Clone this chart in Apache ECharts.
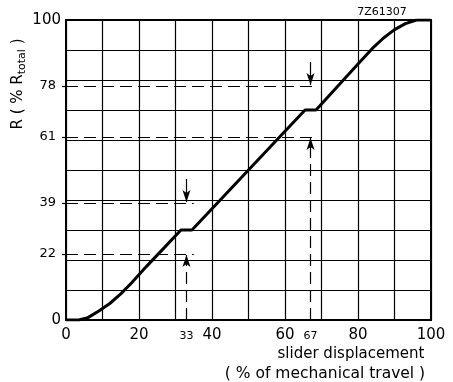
<!DOCTYPE html>
<html>
<head>
<meta charset="utf-8">
<script src="https://cdn.jsdelivr.net/npm/echarts@6/dist/echarts.min.js"></script>
<style>
  html, body { margin: 0; padding: 0; background: #fff; }
  #chart { width: 453px; height: 382px; }
</style>
</head>
<body>
<div id="chart"></div>
<script>
// curve: slider displacement (%) -> R (% of R total)
var travel = [0, 3.5, 6, 9, 12, 15, 18, 22, 27, 31.5, 34.5, 40, 50, 60, 65.5, 68.5, 76, 80, 84, 87, 90, 93, 96, 100];
var resist = [0, 0, 0.8, 3, 5.5, 8.7, 12.4, 17.8, 24.2, 30, 30, 37.1, 50, 62.9, 70, 70, 80, 85.3, 90.6, 94, 96.8, 98.8, 100, 100];

var xMainLabels = [0, 20, 40, 60, 80, 100];
var xTapLabels = [33, 67];
var yMainLabels = [0, 100];
var yTapLabels = [22, 39, 61, 78];

// tap points: x position, lower level, upper level
var tapX = [33, 67];
var tapLow = [22, 61];
var tapHigh = [39, 78];

var FONT = 'DejaVu Sans';

var curve = travel.map(function (x, i) { return [x, resist[i]]; });

var marks = [];
tapX.forEach(function (x, i) {
  var dash = { type: [12, 6], width: 1.2, color: '#000' };
  marks.push([{ coord: [0, tapLow[i]], lineStyle: dash, symbol: 'none' }, { coord: [x + 2, tapLow[i]], symbol: 'none' }]);
  marks.push([{ coord: [0, tapHigh[i]], lineStyle: dash, symbol: 'none' }, { coord: [x + 2, tapHigh[i]], symbol: 'none' }]);
  // dashed rise from the axis with arrow up to lower level
  marks.push([{ coord: [x, 0], lineStyle: dash, symbol: 'none' }, { coord: [x, tapLow[i] - 0.3], symbol: 'arrow', symbolSize: [6, 12] }]);
  // short arrow down onto the upper level
  marks.push([{ coord: [x, tapHigh[i] + 8], lineStyle: { type: 'solid', width: 1.2, color: '#000' }, symbol: 'none' }, { coord: [x, tapHigh[i] + 0.3], symbol: 'arrow', symbolSize: [6, 12] }]);
});

var chart = echarts.init(document.getElementById('chart'));
chart.setOption({
  animation: false,
  backgroundColor: '#fff',
  grid: { left: 66, right: 22, top: 20, bottom: 62, show: true, borderColor: '#000', borderWidth: 2 },
  xAxis: [{
    type: 'value', min: 0, max: 100, interval: 10,
    axisLine: { show: true, lineStyle: { color: '#000', width: 2 } },
    axisTick: { show: false },
    splitLine: { show: true, lineStyle: { color: '#000', width: 1.2 } },
    axisLabel: {
      margin: 8, color: '#000', fontFamily: FONT, fontSize: 15,
      formatter: function (v) { return xMainLabels.indexOf(v) >= 0 ? String(v) : ''; }
    }
  }, {
    type: 'value', min: 0, max: 100, interval: 1, position: 'bottom',
    axisLine: { show: false }, axisTick: { show: false }, splitLine: { show: false },
    axisLabel: {
      margin: 11, color: '#000', fontFamily: FONT, fontSize: 11,
      formatter: function (v) { return xTapLabels.indexOf(v) >= 0 ? String(v) : ''; }
    }
  }],
  yAxis: [{
    type: 'value', min: 0, max: 100, interval: 10,
    axisLine: { show: true, lineStyle: { color: '#000', width: 2 } },
    axisTick: { show: false },
    splitLine: { show: true, lineStyle: { color: '#000', width: 1.2 } },
    axisLabel: {
      margin: 5, color: '#000', fontFamily: FONT, fontSize: 15,
      formatter: function (v) { return yMainLabels.indexOf(v) >= 0 ? String(v) : ''; }
    }
  }, {
    type: 'value', min: 0, max: 100, interval: 1, position: 'left',
    axisLine: { show: false }, splitLine: { show: false },
    axisTick: {
      show: true, length: 4, lineStyle: { color: '#000', width: 1.2 },
      customValues: yTapLabels
    },
    axisLabel: {
      margin: 10, color: '#000', fontFamily: FONT, fontSize: 13,
      customValues: yTapLabels,
      formatter: function (v) { return yTapLabels.indexOf(v) >= 0 ? String(v) : ''; }
    }
  }],
  graphic: [
    {
      type: 'text', x: 18, y: 84, rotation: Math.PI / 2,
      style: {
        text: 'R ( % R{s|total} )', fill: '#000', font: '15px "' + FONT + '"',
        align: 'center', verticalAlign: 'middle',
        rich: { s: { fontSize: 11, fontFamily: FONT, fill: '#000', padding: [8, 0, 0, 0] } }
      }
    },
    { type: 'text', x: 351, y: 354, style: { text: 'slider displacement', fill: '#000', font: '15px "' + FONT + '"', align: 'center', verticalAlign: 'middle' } },
    { type: 'text', x: 325, y: 374, style: { text: '( % of mechanical travel )', fill: '#000', font: '15.5px "' + FONT + '"', align: 'center', verticalAlign: 'middle' } },
    { type: 'text', x: 382, y: 12, style: { text: '7Z61307', fill: '#000', font: '11px "' + FONT + '"', align: 'center', verticalAlign: 'middle' } }
  ],
  series: [{
    type: 'line',
    data: curve,
    showSymbol: false,
    lineStyle: { color: '#000', width: 3 },
    markLine: {
      silent: true,
      symbol: 'none',
      label: { show: false },
      data: marks
    }
  }]
});
</script>
</body>
</html>
